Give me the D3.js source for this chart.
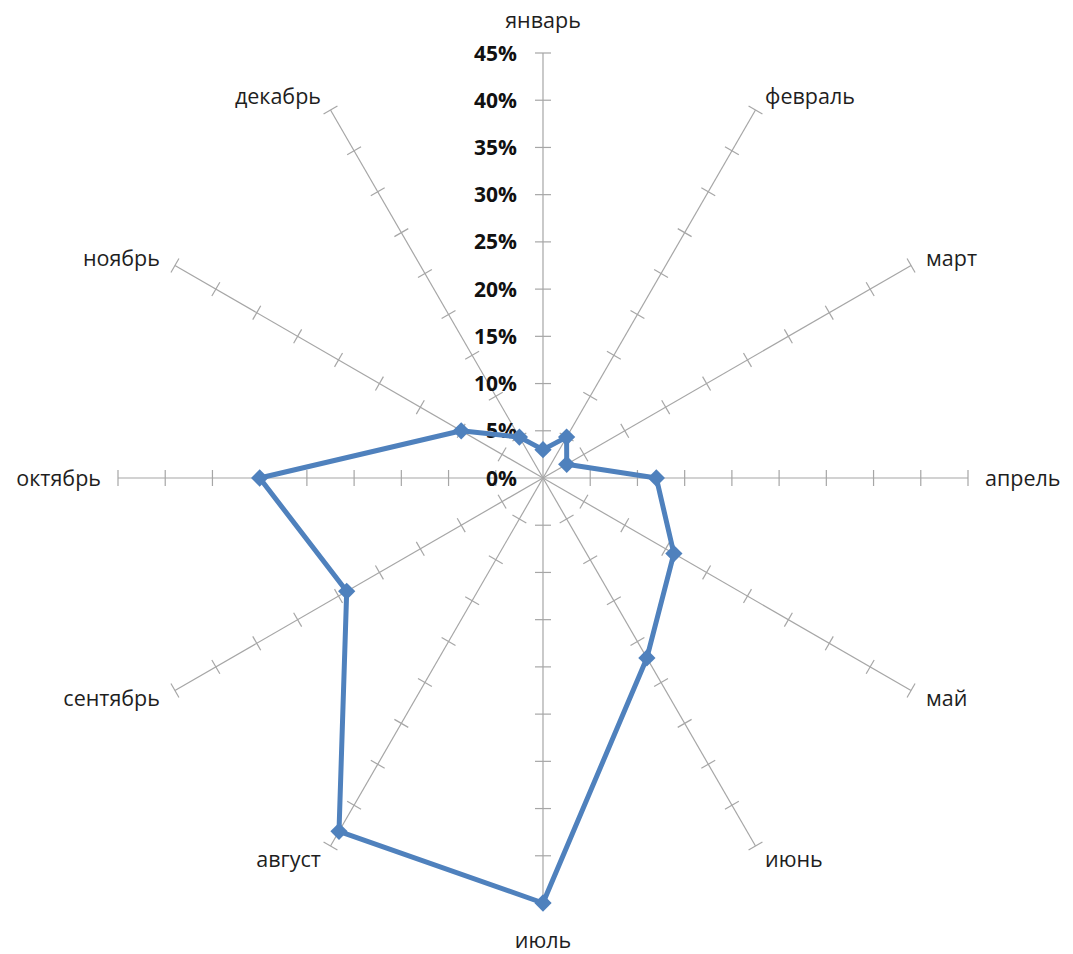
<!DOCTYPE html>
<html>
<head>
<meta charset="utf-8">
<script src="https://cdn.jsdelivr.net/npm/d3@7"></script>
<style>
  html, body { margin: 0; padding: 0; background: #fff; }
  svg { display: block; }
  .month { font-family: "Open Sans", "Noto Sans", sans-serif; font-size: 21.5px; fill: #1e1e1e; }
  .tick-label { font-family: "Open Sans", "Noto Sans", sans-serif; font-size: 21px; font-weight: bold; fill: #111; }
</style>
</head>
<body>
<svg id="chart" width="1073" height="954"></svg>
<script>
// Months around the radar, clockwise from the top
const months = ["январь", "февраль", "март", "апрель", "май", "июнь",
                "июль", "август", "сентябрь", "октябрь", "ноябрь", "декабрь"];
// Share per month, %
const shares = [3.0, 5.0, 2.9, 12.0, 16.0, 22.0, 45.0, 43.2, 24.0, 30.0, 10.0, 5.0];
// Radial tick values, %
const tickValues = [0, 5, 10, 15, 20, 25, 30, 35, 40, 45];

const width = 1073, height = 954;
const cx = 543, cy = 478;
const R = 425;

const svg = d3.select("#chart");
const g = svg.append("g").attr("transform", `translate(${cx},${cy})`);

const r = d3.scaleLinear().domain([0, 45]).range([0, R]);
const angle = d3.scaleBand().domain(months).range([0, 2 * Math.PI]).align(0).paddingInner(0).paddingOuter(0);
const ang = m => angle(m);

const px = (a, d) => d * Math.sin(a);
const py = (a, d) => -d * Math.cos(a);

// Spokes
const spokes = g.append("g").attr("class", "spokes");
months.forEach(m => {
  const a = ang(m);
  spokes.append("line")
    .attr("x1", 0).attr("y1", 0)
    .attr("x2", px(a, r(45))).attr("y2", py(a, r(45)))
    .attr("stroke", "#a6a6a6").attr("stroke-width", 1.2);
  // tick marks across each spoke
  tickValues.filter(v => v > 0).forEach(v => {
    const d = r(v), h = 8;
    const x0 = px(a, d), y0 = py(a, d);
    const nx = Math.cos(a), ny = Math.sin(a);
    spokes.append("line")
      .attr("x1", x0 - nx * h).attr("y1", y0 - ny * h)
      .attr("x2", x0 + nx * h).attr("y2", y0 + ny * h)
      .attr("stroke", "#a6a6a6").attr("stroke-width", 1.2);
  });
});

// Radial tick labels along the top spoke
g.append("g").selectAll("text")
  .data(tickValues)
  .join("text")
  .attr("class", "tick-label")
  .attr("x", -26)
  .attr("y", d => -r(d))
  .attr("dy", "0.36em")
  .attr("text-anchor", "end")
  .text(d => d + "%");

// Month labels
g.append("g").selectAll("text")
  .data(months)
  .join("text")
  .attr("class", "month")
  .each(function (m) {
    const a = ang(m);
    const s = Math.sin(a), c = Math.cos(a);
    const sel = d3.select(this);
    if (Math.abs(s) < 0.1) {
      const d = c > 0 ? 458 : 462;
      sel.attr("x", 0).attr("y", py(a, d)).attr("dy", "0.35em").attr("text-anchor", "middle");
    } else {
      const d = 440;
      sel.attr("x", px(a, d) + (s > 0 ? 2 : -2))
        .attr("y", py(a, d))
        .attr("dy", "0.35em")
        .attr("text-anchor", s > 0 ? "start" : "end");
    }
  })
  .text(m => m);

// Data polygon
const pts = months.map((m, i) => [px(ang(m), r(shares[i])), py(ang(m), r(shares[i]))]);
const line = d3.line().curve(d3.curveLinearClosed);
const blue = "#4f81bd";
g.append("path")
  .attr("d", line(pts))
  .attr("fill", "none")
  .attr("stroke", blue)
  .attr("stroke-width", 5)
  .attr("stroke-linejoin", "round");

// Diamond markers
const diamond = d3.symbol().type(d3.symbolDiamond2).size(190);
g.append("g").selectAll("path")
  .data(pts)
  .join("path")
  .attr("transform", d => `translate(${d[0]},${d[1]})`)
  .attr("d", diamond())
  .attr("fill", blue);
</script>
</body>
</html>
